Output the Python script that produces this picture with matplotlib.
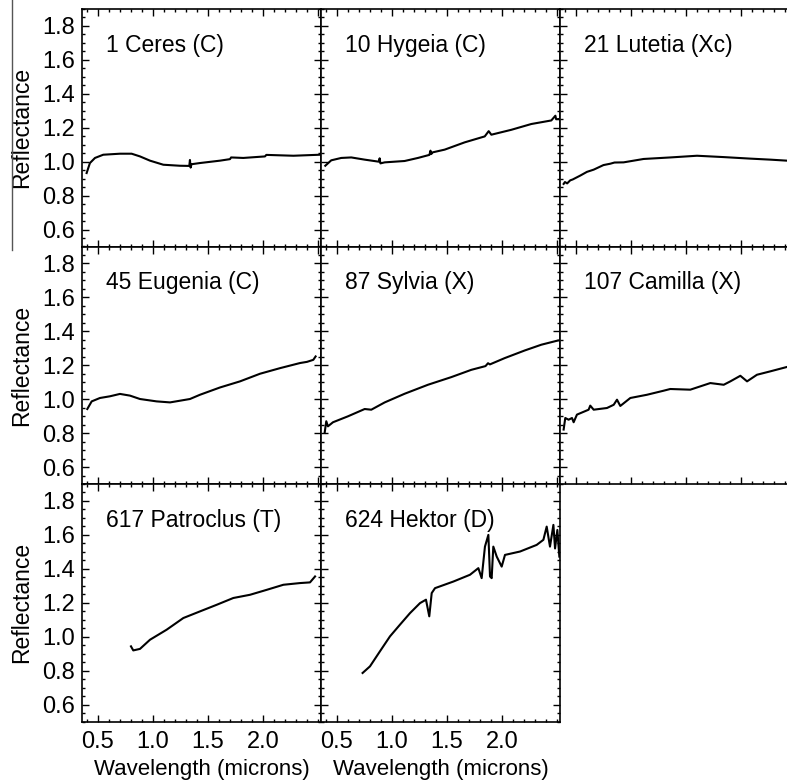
import numpy as np
import matplotlib
matplotlib.use("Agg")
import matplotlib.pyplot as plt
from matplotlib.ticker import MultipleLocator
from matplotlib.lines import Line2D

plt.rcParams['font.family'] = ['Liberation Sans', 'DejaVu Sans']

# espectros (comprimento de onda em microns, refletancia)
nomes = ["1 Ceres (C)", "10 Hygeia (C)", "21 Lutetia (Xc)",
         "45 Eugenia (C)", "87 Sylvia (X)", "107 Camilla (X)",
         "617 Patroclus (T)", "624 Hektor (D)"]

wl_ceres = [0.397, 0.427, 0.473, 0.548, 0.70, 0.806, 0.882, 0.973, 1.094, 1.245,
            1.33, 1.336, 1.342, 1.35, 1.427, 1.609, 1.70, 1.71, 1.821, 2.018, 2.03,
            2.276, 2.518]
refl_ceres = [0.933, 0.992, 1.022, 1.041, 1.047, 1.047, 1.031, 1.006, 0.982, 0.976,
              0.975, 1.01, 0.965, 0.985, 0.992, 1.006, 1.015, 1.025, 1.022, 1.031, 1.04,
              1.035, 1.041]

wl_hygeia = [0.394, 0.448, 0.539, 0.630, 0.752, 0.88, 0.888, 0.895, 0.934, 1.115,
             1.236, 1.34, 1.35, 1.357, 1.37, 1.479, 1.661, 1.843, 1.879, 1.903, 2.085,
             2.266, 2.448, 2.485, 2.492, 2.509]
refl_hygeia = [0.976, 1.008, 1.022, 1.025, 1.012, 1.0, 1.02, 0.99, 0.996, 1.004,
               1.022, 1.04, 1.065, 1.045, 1.055, 1.071, 1.114, 1.149, 1.180, 1.159, 1.188,
               1.222, 1.243, 1.271, 1.25, 1.251]

wl_lutetia = [0.388, 0.40, 0.42, 0.448, 0.47, 0.539, 0.60, 0.661, 0.75, 0.812, 0.85,
              0.933, 1.115, 1.358, 1.6, 1.843, 2.085, 2.266, 2.418, 2.52]
refl_lutetia = [0.869, 0.88, 0.872, 0.890, 0.895, 0.918, 0.94, 0.953, 0.98, 0.988, 0.995,
                0.996, 1.016, 1.025, 1.035, 1.027, 1.018, 1.012, 1.006, 1.002]

wl_eugenia = [0.403, 0.443, 0.518, 0.609, 0.70, 0.791, 0.882, 1.033, 1.155, 1.336,
              1.427, 1.609, 1.791, 1.973, 2.155, 2.336, 2.40, 2.457, 2.478]
refl_eugenia = [0.942, 0.987, 1.007, 1.017, 1.031, 1.021, 1.001, 0.987, 0.981, 1.001,
                1.026, 1.069, 1.105, 1.150, 1.183, 1.213, 1.22, 1.232, 1.252]

wl_sylvia = [0.388, 0.403, 0.418, 0.464, 0.60, 0.752, 0.812, 0.934, 1.115, 1.327,
             1.539, 1.721, 1.85, 1.873, 1.89, 2.024, 2.206, 2.357, 2.509]
refl_sylvia = [0.801, 0.870, 0.840, 0.864, 0.899, 0.942, 0.938, 0.981, 1.032, 1.085,
               1.130, 1.173, 1.195, 1.212, 1.205, 1.242, 1.287, 1.321, 1.346]

wl_camilla = [0.388, 0.403, 0.433, 0.464, 0.479, 0.509, 0.615, 0.63, 0.661, 0.782,
              0.843, 0.873, 0.903, 0.994, 1.145, 1.297, 1.357, 1.539, 1.721, 1.843,
              1.903, 1.994, 2.055, 2.145, 2.266, 2.418, 2.52]
refl_camilla = [0.821, 0.889, 0.879, 0.889, 0.864, 0.909, 0.938, 0.962, 0.938, 0.948,
                0.967, 0.997, 0.960, 1.007, 1.026, 1.050, 1.060, 1.056, 1.095, 1.085,
                1.105, 1.138, 1.105, 1.144, 1.164, 1.190, 1.20]

wl_patroclus = [0.80, 0.821, 0.882, 0.973, 1.124, 1.276, 1.427, 1.579, 1.73, 1.882,
                2.033, 2.185, 2.336, 2.427, 2.473]
refl_patroclus = [0.943, 0.919, 0.928, 0.982, 1.041, 1.110, 1.149, 1.188, 1.228, 1.247,
                  1.276, 1.306, 1.316, 1.320, 1.355]

wl_hektor = [0.733, 0.80, 0.891, 0.982, 1.073, 1.164, 1.255, 1.309, 1.339, 1.361,
             1.391, 1.558, 1.709, 1.785, 1.815, 1.845, 1.876, 1.891, 1.906, 1.921,
             1.952, 1.997, 2.027, 2.164, 2.315, 2.376, 2.406, 2.436, 2.467, 2.482,
             2.503, 2.521]
refl_hektor = [0.786, 0.825, 0.914, 1.002, 1.071, 1.139, 1.198, 1.218, 1.120, 1.257,
               1.286, 1.325, 1.365, 1.404, 1.345, 1.531, 1.600, 1.355, 1.345, 1.531,
               1.472, 1.413, 1.482, 1.502, 1.541, 1.571, 1.649, 1.531, 1.659, 1.52,
               1.629, 1.472]

espectros = [(wl_ceres, refl_ceres), (wl_hygeia, refl_hygeia), (wl_lutetia, refl_lutetia),
             (wl_eugenia, refl_eugenia), (wl_sylvia, refl_sylvia), (wl_camilla, refl_camilla),
             (wl_patroclus, refl_patroclus), (wl_hektor, refl_hektor)]

fig = plt.figure(figsize=(7.87, 7.84), dpi=100)

esq = [82, 321, 560]
topo = [9, 246.5, 484]
larg = 239
alt = 237.5

for i in range(8):
    lin, col = i // 3, i % 3
    ax = fig.add_axes([esq[col] / 787, 1 - (topo[lin] + alt) / 784, larg / 787, alt / 784])
    wl, refl = espectros[i]
    ax.plot(wl, refl, color='black', lw=1.5)
    ax.set_xlim(0.355, 2.527)
    ax.set_ylim(0.5, 1.9)
    ax.xaxis.set_major_locator(MultipleLocator(0.5))
    ax.xaxis.set_minor_locator(MultipleLocator(0.1))
    ax.yaxis.set_major_locator(MultipleLocator(0.2))
    ax.yaxis.set_minor_locator(MultipleLocator(0.05))
    ax.tick_params(which='both', direction='in', top=True, right=True, width=1, labelsize=17, pad=5)
    ax.tick_params(axis='x', pad=7)
    ax.tick_params(which='major', length=5)
    ax.tick_params(which='minor', length=2.5)
    for s in ax.spines.values():
        s.set_linewidth(1.2)
    ax.text(0.1, 0.82, nomes[i], transform=ax.transAxes, fontsize=16.5, va='baseline')
    if col == 0:
        ax.set_ylabel("Reflectance", fontsize=16.5)
        ax.yaxis.set_label_coords(-0.205, 0.5)
        ax.set_yticks([0.6, 0.8, 1.0, 1.2, 1.4, 1.6, 1.8])
        ax.set_yticklabels(["0.6", "0.8", "1.0", "1.2", "1.4", "1.6", "1.8"])
    else:
        ax.set_yticklabels([])
    if lin == 2:
        ax.set_xticks([0.5, 1.0, 1.5, 2.0])
        ax.set_xticklabels(["0.5", "1.0", "1.5", "2.0"])
        ax.set_xlabel("Wavelength (microns)", fontsize=16)
        ax.xaxis.set_label_coords(0.5, -0.158)
    else:
        ax.set_xticklabels([])

# linha vertical da borda esquerda da figura original
fig.add_artist(Line2D([12 / 787, 12 / 787], [1, 1 - 250 / 784], color='#555555', lw=1))

plt.savefig("out.png", dpi=100)
